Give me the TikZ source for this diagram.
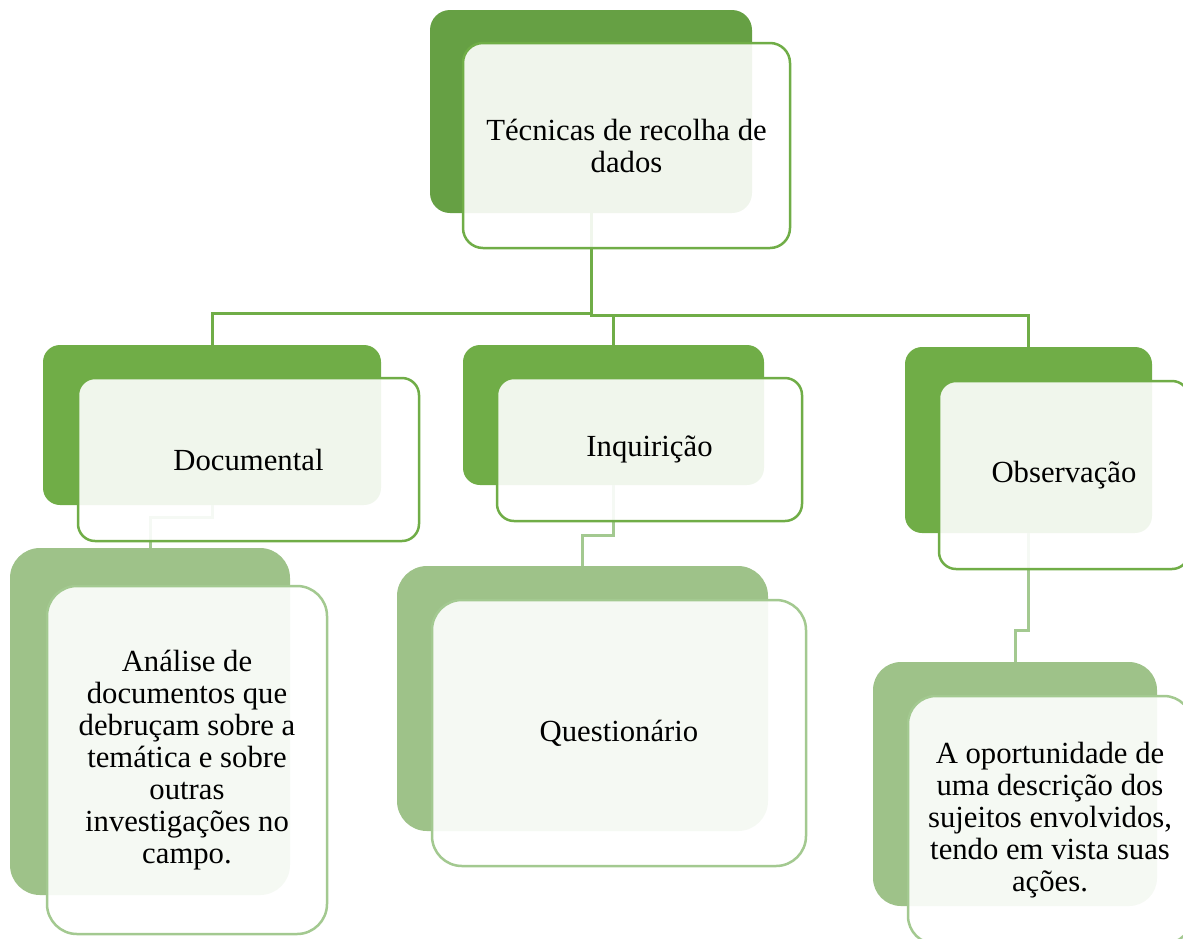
\documentclass[tikz,border=0pt]{standalone}
\usepackage{fontspec}
\setmainfont{Liberation Serif}
\usepackage{xcolor}
\usepackage{tikz}

\definecolor{greenA}{RGB}{102,160,68}
\definecolor{greenB}{RGB}{112,173,71}
\definecolor{greenC}{RGB}{158,194,137}
\definecolor{greenCl}{RGB}{163,201,144}

\begin{document}
\begin{tikzpicture}[x=1pt,y=-1pt,
    back/.style={rectangle, rounded corners=#1, inner sep=0pt, draw=none},
    front/.style={rectangle, rounded corners=#1, inner sep=0pt, fill=white,
        fill opacity=0.9, text opacity=1, line width=2.5pt, align=center,
        font=\fontsize{30.7}{32}\selectfont},
    link/.style={line width=3pt, greenB},
    sublink/.style={line width=3pt, greenCl}]
    \useasboundingbox (0,0) rectangle (1183,938);

    % back boxes
    \node[back=20pt, fill=greenA, minimum width=322pt, minimum height=203pt] (top) at (591,111.5) {};
    \node[back=17pt, fill=greenB, minimum width=338pt, minimum height=160pt] (doc) at (212,425) {};
    \node[back=17pt, fill=greenB, minimum width=301pt, minimum height=140pt] (inq) at (613.5,415) {};
    \node[back=17pt, fill=greenB, minimum width=247pt, minimum height=186pt] (obs) at (1028.5,440) {};
    \node[back=30pt, fill=greenC, minimum width=280pt, minimum height=347pt] (ana) at (150,721.5) {};
    \node[back=30pt, fill=greenC, minimum width=371pt, minimum height=265pt] (que) at (582.5,698.5) {};
    \node[back=28pt, fill=greenC, minimum width=284pt, minimum height=244pt] (opo) at (1015,784) {};

    % connectors
    \draw[link] (top.south) -- ++(0,100) -| (doc.north);
    \draw[link] (top.south) -- ++(0,102) -| (inq.north);
    \draw[link] (top.south) -- ++(0,102) -| (obs.north);
    \draw[sublink] (doc.south) -- ++(0,12) -| (ana.north);
    \draw[sublink] (inq.south) -- ++(0,50) -| (que.north);
    \draw[sublink] (obs.south) -- ++(0,97) -| (opo.north);

    % front boxes
    \node[front=20pt, draw=greenB, minimum width=327pt, minimum height=205pt] (topF) at (626.5,145.5) {Técnicas de recolha de\\dados};
    \node[front=17pt, draw=greenB, minimum width=341pt, minimum height=163pt] (docF) at (248.5,459.5) {Documental};
    \node[front=17pt, draw=greenB, minimum width=305pt, minimum height=143pt] (inqF) at (649.5,449.5) {Inquirição};
    \node[front=17pt, draw=greenB, minimum width=250pt, minimum height=188pt] (obsF) at (1064,475) {Observação};
    \node[front=30pt, draw=greenCl, minimum width=280pt, minimum height=348pt] (anaF) at (187,760) {Análise de\\documentos que\\debruçam sobre a\\temática e sobre\\outras\\investigações no\\campo.};
    \node[front=30pt, draw=greenCl, minimum width=374pt, minimum height=266pt] (queF) at (619,733) {Questionário};
    \node[front=28pt, draw=greenCl, minimum width=284pt, minimum height=248pt] (opoF) at (1050,820) {A oportunidade de\\uma descrição dos\\sujeitos envolvidos,\\tendo em vista suas\\ações.};
\end{tikzpicture}
\end{document}
